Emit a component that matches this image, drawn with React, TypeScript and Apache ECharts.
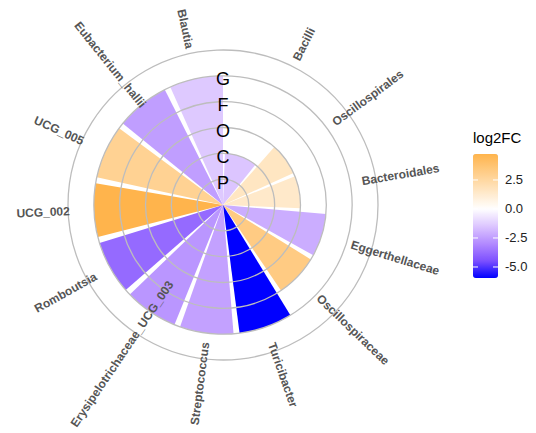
import React, { useEffect, useRef } from "react";
import * as echarts from "echarts";

// ---- data ----
const categories = [
  "Bacilli",
  "Oscillospirales",
  "Bacteroidales",
  "Eggerthellaceae",
  "Oscillospiraceae",
  "Turicibacter",
  "Streptococcus",
  "Erysipelotrichaceae_UCG_003",
  "Romboutsia",
  "UCG_002",
  "UCG_005",
  "Eubacterium_hallii",
  "Blautia",
];
// taxonomic level of each taxon: 1=P, 2=C, 3=O, 4=F, 5=G
const levelValues = [2, 3, 3, 4, 4, 5, 5, 5, 5, 5, 5, 5, 5];
const log2FC = [-1.5, 1.6, 1.4, -2.1, 3.3, -5.95, -2.4, -2.7, -3.8, 4.74, 2.85, -2.5, -1.4];
const levelLabels = ["P", "C", "O", "F", "G"];
const levelBreaks = [1, 2, 3, 4, 5];
const legendTicks = [2.5, 0, -2.5, -5];
const fcMin = -5.95;
const fcMax = 4.74;

// ---- colour scale (gradient2: blue - white - orange) ----
const blueRamp = ["#FFFFFF", "#DCC5FF", "#B38BFF", "#7E51FF", "#0000FF"];
const highColor = "#FFB44C";
function hexToRgb(h: string) {
  return [parseInt(h.slice(1, 3), 16), parseInt(h.slice(3, 5), 16), parseInt(h.slice(5, 7), 16)];
}
function mix(a: string, b: string, t: number) {
  const A = hexToRgb(a);
  const B = hexToRgb(b);
  const c = A.map((v, i) => Math.round(v + (B[i] - v) * t));
  return "rgb(" + c.join(",") + ")";
}
function fcColor(v: number) {
  if (v <= 0) {
    const t = Math.min(1, -v / Math.abs(fcMin)) * 4;
    const i = Math.min(3, Math.floor(t));
    return mix(blueRamp[i], blueRamp[i + 1], t - i);
  }
  return mix("#FFFFFF", highColor, Math.min(1, v / fcMax));
}
const NSTOPS = 60;
const colorStops = Array.from({ length: NSTOPS + 1 }, (_, i) => fcColor(fcMin + ((fcMax - fcMin) * i) / NSTOPS));

// ---- layout ----
const CX = 223;
const CY = 205;
const R = 155;
const BAR_W = 0.9;
const FIRST_BAR_START = 0.08;
const LABEL_R = 6.97;
const LEG_LEFT = 473;
const LEG_TOP = 154;
const LEG_W = 25;
const LEG_H = 124;
const FONT = "'Liberation Sans', Arial, Helvetica, sans-serif";

export default function App() {
  const ref = useRef<HTMLDivElement>(null);
  useEffect(() => {
    if (!ref.current) return;
    const chart = echarts.init(ref.current, undefined, { renderer: "svg" });

    const legY = (v: number) => LEG_TOP + ((fcMax - v) / (fcMax - fcMin)) * LEG_H;
    const graphics: any[] = [
      {
        type: "text",
        left: LEG_LEFT,
        top: 130,
        style: { text: "log2FC", fontSize: 15, fill: "#000", fontFamily: FONT },
      },
    ];
    legendTicks.forEach((t) => {
      const y = legY(t);
      graphics.push({
        type: "text",
        x: LEG_LEFT + LEG_W + 7,
        y,
        style: {
          text: t.toFixed(1),
          fontSize: 13,
          fill: "#222",
          fontFamily: FONT,
          verticalAlign: "middle",
          align: "left",
        },
        z: 20,
      });
      graphics.push({
        type: "line",
        shape: { x1: LEG_LEFT, y1: y, x2: LEG_LEFT + 5, y2: y },
        style: { stroke: "#fff", lineWidth: 1 },
        z: 20,
      });
      graphics.push({
        type: "line",
        shape: { x1: LEG_LEFT + LEG_W - 5, y1: y, x2: LEG_LEFT + LEG_W, y2: y },
        style: { stroke: "#fff", lineWidth: 1 },
        z: 20,
      });
    });

    const option: any = {
      animation: false,
      backgroundColor: "#fff",
      polar: { center: [CX, CY], radius: R },
      angleAxis: {
        type: "value",
        min: 0,
        max: categories.length + BAR_W / 2,
        startAngle: 90,
        clockwise: true,
        axisLine: { show: false },
        axisTick: { show: false },
        axisLabel: { show: false },
        splitLine: { show: false },
      },
      radiusAxis: {
        type: "value",
        min: 0,
        max: 6,
        interval: 1,
        z: 5,
        axisLine: { show: false },
        axisTick: { show: false },
        axisLabel: { show: false },
        splitLine: { show: true, lineStyle: { color: "#BDBDBD", width: 1.3 } },
      },
      visualMap: {
        type: "continuous",
        seriesIndex: 0,
        dimension: 2,
        min: fcMin,
        max: fcMax,
        calculable: false,
        orient: "vertical",
        left: LEG_LEFT,
        top: LEG_TOP,
        padding: 0,
        itemWidth: LEG_W,
        itemHeight: LEG_H,
        inRange: { color: colorStops },
      },
      graphic: graphics,
      series: [
        {
          type: "custom",
          coordinateSystem: "polar",
          z: 1,
          data: categories.map((c, i) => [levelValues[i], i + 1, log2FC[i]]),
          renderItem: (params: any, api: any) => {
            const h = api.value(0);
            const pos = api.value(1);
            const cs = params.coordSys;
            const from = params.dataIndex === 0 ? FIRST_BAR_START : pos - BAR_W / 2;
            const p1 = api.coord([h, from]);
            const p2 = api.coord([h, pos + BAR_W / 2]);
            const r = Math.hypot(p1[0] - cs.cx, p1[1] - cs.cy);
            const a1 = Math.atan2(p1[1] - cs.cy, p1[0] - cs.cx);
            let a2 = Math.atan2(p2[1] - cs.cy, p2[0] - cs.cx);
            if (a2 < a1) a2 += Math.PI * 2;
            return {
              type: "sector",
              shape: { cx: cs.cx, cy: cs.cy, r0: 0, r, startAngle: a1, endAngle: a2, clockwise: true },
              style: { fill: api.visual("color") },
            };
          },
        },
        {
          type: "custom",
          coordinateSystem: "polar",
          z: 10,
          silent: true,
          data: levelBreaks.map((b) => [b - 0.13, 0]),
          renderItem: (params: any, api: any) => {
            const p = api.coord([api.value(0), api.value(1)]);
            return {
              type: "text",
              x: p[0],
              y: p[1],
              style: {
                text: levelLabels[params.dataIndex],
                fontSize: 18,
                fill: "#000",
                fontFamily: FONT,
                align: "center",
                verticalAlign: "middle",
              },
            };
          },
        },
        {
          type: "custom",
          coordinateSystem: "polar",
          z: 10,
          silent: true,
          data: categories.map((c, i) => [LABEL_R, i + 1]),
          renderItem: (params: any, api: any) => {
            const cs = params.coordSys;
            const p = api.coord([api.value(0), api.value(1)]);
            const dx = p[0] - cs.cx;
            const dy = p[1] - cs.cy;
            let rot = Math.atan2(-dy, dx);
            if (dx < -0.5) rot += Math.PI;
            return {
              type: "text",
              x: p[0],
              y: p[1],
              rotation: rot,
              style: {
                text: categories[params.dataIndex],
                fontSize: 12,
                fontWeight: "bold",
                fill: "#555555",
                fontFamily: FONT,
                align: "center",
                verticalAlign: "middle",
              },
            };
          },
        },
      ],
    };
    chart.setOption(option);
    return () => chart.dispose();
  }, []);
  return (
    <div
      ref={ref}
      style={{ position: "absolute", left: 0, top: 0, width: 536, height: 433, background: "#fff" }}
    />
  );
}
